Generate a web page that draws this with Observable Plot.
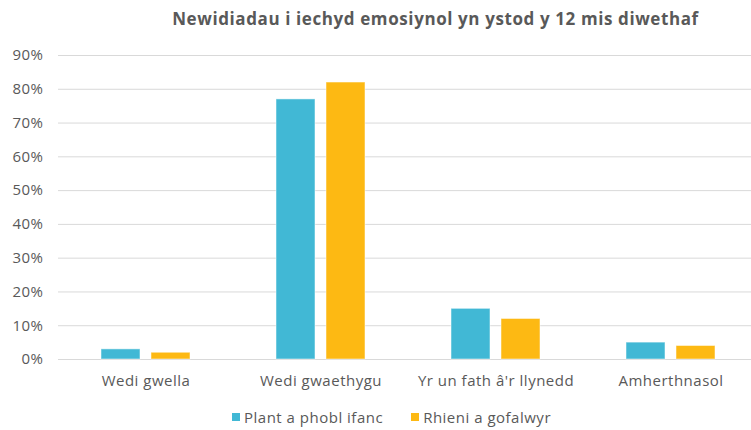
<!DOCTYPE html>
<html>
<head>
<meta charset="utf-8">
<script src="https://cdn.jsdelivr.net/npm/d3@7"></script>
<script src="https://cdn.jsdelivr.net/npm/@observablehq/plot@0.6"></script>
<style>
  body { margin: 0; background: #fff; font-family: "Open Sans", sans-serif; }
  #wrap { width: 751px; height: 430px; position: relative; overflow: hidden; }
  #title { height: 38px; line-height: 38px; padding-left: 120px; text-align: center; font-size: 17px; font-weight: bold; letter-spacing: 0.6px; color: #595959; white-space: nowrap; }
  #legend { position: absolute; top: 407px; left: 0; width: 751px; padding-left: 32px; box-sizing: border-box; display: flex; justify-content: center; gap: 28px; font-size: 15px; letter-spacing: 0.5px; color: #595959; }
  .item { display: flex; align-items: center; gap: 4px; }
  .sw { width: 8px; height: 8px; display: inline-block; }
  svg text { letter-spacing: 0.5px; }
</style>
</head>
<body>
<div id="wrap">
  <div id="title">Newidiadau i iechyd emosiynol yn ystod y 12 mis diwethaf</div>
  <div id="chart"></div>
  <div id="legend"></div>
</div>
<script>
const categories = ["Wedi gwella", "Wedi gwaethygu", "Yr un fath â'r llynedd", "Amherthnasol"];
const series = ["Plant a phobl ifanc", "Rhieni a gofalwyr"];
const plantValues = [0.03, 0.77, 0.15, 0.05];
const rhieniValues = [0.02, 0.82, 0.12, 0.04];
const colors = ["#41B8D5", "#FDB913"];
const yTicks = [0, 0.1, 0.2, 0.3, 0.4, 0.5, 0.6, 0.7, 0.8, 0.9];

const data = [];
categories.forEach((c, i) => {
  data.push({category: c, series: series[0], value: plantValues[i]});
  data.push({category: c, series: series[1], value: rhieniValues[i]});
});

const chart = Plot.plot({
  width: 751,
  height: 362,
  marginTop: 17,
  marginBottom: 41,
  marginLeft: 58,
  marginRight: -7,
  style: {fontFamily: "'Open Sans', sans-serif", fontSize: "15px", color: "#595959", background: "transparent"},
  fx: {domain: categories, padding: 0, label: null, tickSize: 0, tickPadding: 16},
  x: {domain: series, paddingInner: 0.22, paddingOuter: 0.86, axis: null},
  y: {domain: [0, 0.9], ticks: yTicks, tickFormat: d => Math.round(d * 100) + "%", label: null, tickSize: 0, tickPadding: 15},
  color: {domain: series, range: colors},
  marks: [
    Plot.ruleY(yTicks, {stroke: "#d9d9d9", strokeWidth: 1}),
    Plot.barY(data, {fx: "category", x: "series", y: "value", fill: "series", stroke: "#ffffff", strokeOpacity: 0.5, strokeWidth: 1})
  ]
});
document.getElementById("chart").appendChild(chart);

const legend = document.getElementById("legend");
series.forEach((s, i) => {
  const item = document.createElement("div");
  item.className = "item";
  const sw = document.createElement("span");
  sw.className = "sw";
  sw.style.background = colors[i];
  const t = document.createElement("span");
  t.textContent = s;
  item.appendChild(sw);
  item.appendChild(t);
  legend.appendChild(item);
});
</script>
</body>
</html>
